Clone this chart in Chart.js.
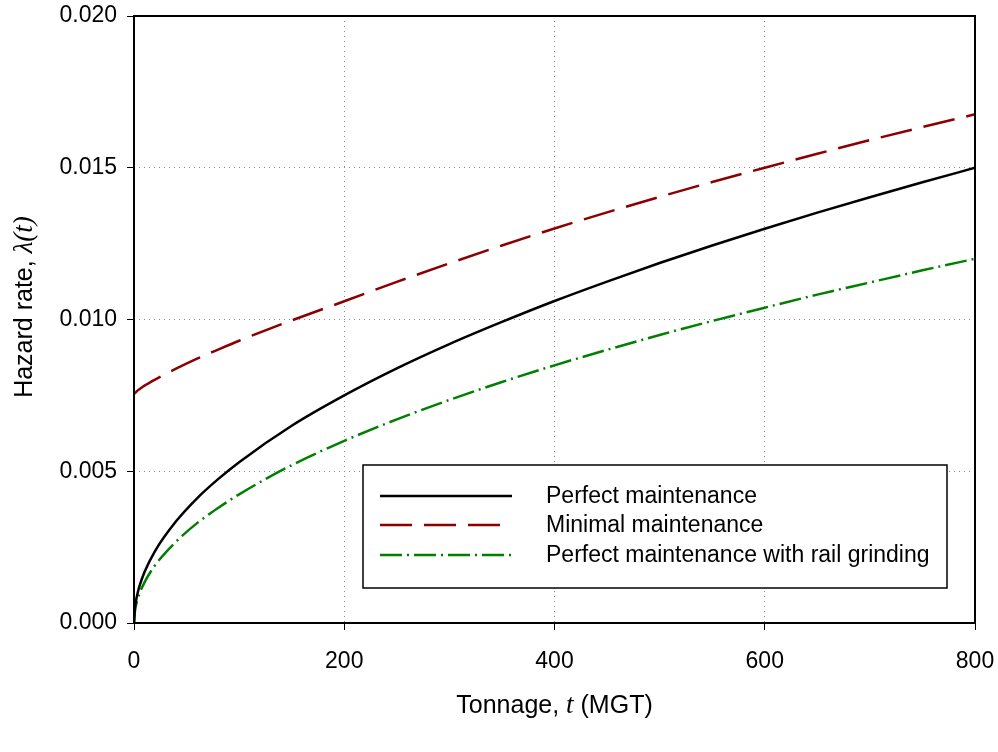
<!DOCTYPE html>
<html>
<head>
<meta charset="utf-8">
<script src="https://cdn.jsdelivr.net/npm/chart.js@4.4.0/dist/chart.umd.min.js"></script>
<style>
  html, body { margin: 0; padding: 0; background: #fff; }
  #wrap { width: 998px; height: 752px; position: relative; }
</style>
</head>
<body>
<div id="wrap"><canvas id="grafico" width="998" height="752"></canvas></div>
<script>
// ==================== DATOS ====================
const tonnage = [0, 1, 2, 3, 5, 10, 20, 40, 60, 80, 100, 150, 200, 250, 300, 350, 400, 450, 500, 550, 600, 650, 700, 750, 800];

const perfectMaint = [0, 0.00053, 0.00075, 0.00092, 0.00119, 0.00168, 0.00237, 0.00335, 0.00411, 0.00474, 0.0053, 0.0065, 0.0075, 0.00839, 0.00919, 0.00992, 0.01061, 0.01125, 0.01186, 0.01244, 0.01299, 0.01352, 0.01403, 0.01452, 0.0150];
const minimalMaint = [0.00754, 0.00758, 0.00761, 0.00765, 0.0077, 0.00782, 0.00802, 0.00838, 0.00871, 0.00901, 0.0093, 0.00997, 0.0106, 0.01124, 0.01185, 0.01244, 0.0130, 0.01353, 0.01404, 0.01453, 0.0150, 0.01546, 0.01591, 0.01634, 0.01676];
const grindingMaint = [0, 0.00042, 0.0006, 0.00074, 0.00095, 0.00134, 0.0019, 0.00268, 0.00329, 0.00379, 0.00424, 0.0052, 0.006, 0.00671, 0.00735, 0.00794, 0.00849, 0.009, 0.00949, 0.00995, 0.01039, 0.01082, 0.01122, 0.01162, 0.0120];

const seriesLabels = ['Perfect maintenance', 'Minimal maintenance', 'Perfect maintenance with rail grinding'];
const xTicks = [0, 200, 400, 600, 800];
const yTicks = [0, 0.005, 0.010, 0.015, 0.020];

function puntos(valores) {
    return tonnage.map((t, i) => ({ x: t, y: valores[i] }));
}

// ==================== PLUGIN: MARCO, TITULOS Y LEYENDA ====================
const extras = {
    id: 'extras',
    afterDraw(chart) {
        const ctx = chart.ctx;
        const a = chart.chartArea;
        ctx.save();

        // marco del area
        ctx.strokeStyle = '#000';
        ctx.lineWidth = 2;
        ctx.strokeRect(a.left, a.top, a.right - a.left, a.bottom - a.top);

        // leyenda
        const bx = 363, by = 465, bw = 584, bh = 123;
        ctx.fillStyle = '#fff';
        ctx.fillRect(bx, by, bw, bh);
        ctx.lineWidth = 1.5;
        ctx.strokeStyle = '#000';
        ctx.strokeRect(bx, by, bw, bh);
        const filas = [496, 525, 555];
        chart.data.datasets.forEach((ds, i) => {
            const y = filas[i];
            ctx.beginPath();
            ctx.setLineDash(ds.borderDash || []);
            ctx.strokeStyle = ds.borderColor;
            ctx.lineWidth = ds.borderWidth;
            ctx.moveTo(380, y);
            ctx.lineTo(512, y);
            ctx.stroke();
            ctx.setLineDash([]);
            ctx.fillStyle = '#000';
            ctx.font = '23px "Liberation Sans", Arial, sans-serif';
            ctx.textAlign = 'left';
            ctx.textBaseline = 'middle';
            ctx.fillText(ds.label, 546, y + 1);
        });

        // titulo eje X: "Tonnage, t (MGT)"
        const sans = '25px "Liberation Sans", Arial, sans-serif';
        const serifIt = 'italic 27px "Liberation Serif", "Times New Roman", serif';
        dibujarPartes(ctx, [['Tonnage, ', sans], ['t', serifIt], [' (MGT)', sans]], (a.left + a.right) / 2, 706);

        // titulo eje Y: "Hazard rate, λ(t)"
        ctx.translate(25, 307);
        ctx.rotate(-Math.PI / 2);
        dibujarPartes(ctx, [['Hazard rate, ', sans], ['\u03bb(t)', serifIt]], 0, 0);

        ctx.restore();
    }
};

function dibujarPartes(ctx, partes, cx, cy) {
    let total = 0;
    partes.forEach(p => { ctx.font = p[1]; total += ctx.measureText(p[0]).width; });
    let x = cx - total / 2;
    ctx.fillStyle = '#000';
    ctx.textAlign = 'left';
    ctx.textBaseline = 'middle';
    partes.forEach(p => {
        ctx.font = p[1];
        ctx.fillText(p[0], x, cy);
        x += ctx.measureText(p[0]).width;
    });
}

// ==================== CREAR GRAFICO ====================
const tickFont = { family: '"Liberation Sans", Arial, sans-serif', size: 23 };

new Chart(document.getElementById('grafico'), {
    type: 'line',
    data: {
        datasets: [{
            label: seriesLabels[0],
            data: puntos(perfectMaint),
            borderColor: '#000000',
            borderWidth: 2.5,
            pointRadius: 0,
            cubicInterpolationMode: 'monotone',
            fill: false
        }, {
            label: seriesLabels[1],
            data: puntos(minimalMaint),
            borderColor: '#8b0000',
            borderWidth: 2.5,
            borderDash: [32, 12],
            pointRadius: 0,
            cubicInterpolationMode: 'monotone',
            fill: false
        }, {
            label: seriesLabels[2],
            data: puntos(grindingMaint),
            borderColor: '#008000',
            borderWidth: 2.5,
            borderDash: [22, 5, 2, 5],
            pointRadius: 0,
            cubicInterpolationMode: 'monotone',
            fill: false
        }]
    },
    options: {
        responsive: false,
        animation: false,
        layout: { padding: { left: 0, right: 23, top: 16, bottom: 0 } },
        plugins: {
            legend: { display: false },
            tooltip: { enabled: false }
        },
        scales: {
            x: {
                type: 'linear',
                min: 0,
                max: 800,
                afterBuildTicks: s => { s.ticks = xTicks.map(v => ({ value: v })); },
                afterFit: s => { s.height = 129; s.paddingLeft = 0; s.paddingRight = 0; },
                ticks: { color: '#000', font: tickFont, padding: 18, maxRotation: 0 },
                grid: { color: '#7f8fa6', lineWidth: 1, tickColor: '#000', tickLength: 7 },
                border: { display: false, dash: [1, 4] }
            },
            y: {
                min: 0,
                max: 0.02,
                afterBuildTicks: s => { s.ticks = yTicks.map(v => ({ value: v })); },
                afterFit: s => { s.width = 134; s.paddingTop = 0; s.paddingBottom = 0; },
                ticks: { color: '#000', font: tickFont, padding: 10, callback: v => Number(v).toFixed(3) },
                grid: { color: '#7f8fa6', lineWidth: 1, tickColor: '#000', tickLength: 7 },
                border: { display: false, dash: [1, 4] }
            }
        }
    },
    plugins: [extras]
});
</script>
</body>
</html>
